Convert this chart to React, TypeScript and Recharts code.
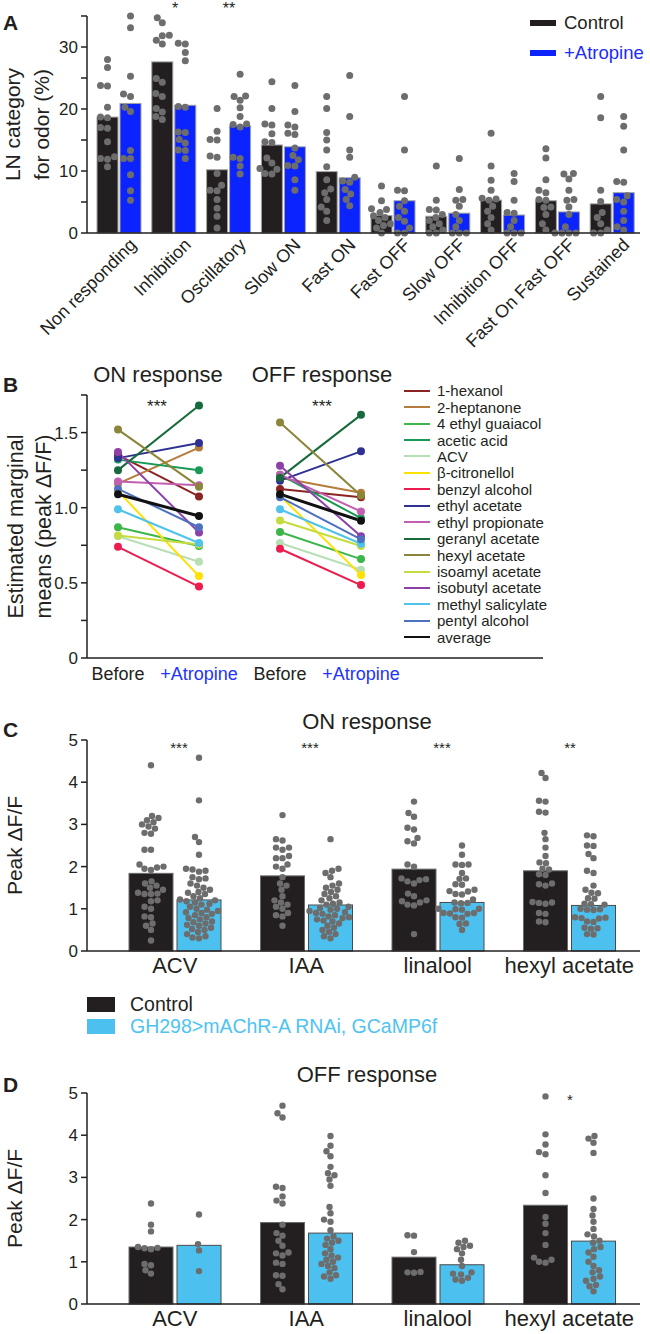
import React from 'react';
import { BarChart, Bar, XAxis, YAxis, LineChart, Line, Legend, Label } from 'recharts';

const FONT = '"Liberation Sans", Arial, Helvetica, sans-serif';
const INK = '#231f20';
const DOT = '#6d6d6d';
const CONTROL = '#231f20';
const ATROPINE = '#0a23ff';
const RNAI = '#4cc1ef';

// ---------- A: LN response categories ----------
const lnCategories = ['Non responding', 'Inhibition', 'Oscillatory', 'Slow ON', 'Fast ON', 'Fast OFF', 'Slow OFF', 'Inhibition OFF', 'Fast On Fast OFF', 'Sustained'];
const lnControl = [18.7, 27.6, 10.2, 14.2, 9.9, 2.8, 2.7, 5.3, 5.2, 4.7];
const lnAtropine = [20.9, 20.6, 17.3, 13.9, 8.9, 5.2, 3.2, 2.9, 3.4, 6.5];
const lnControlDots = [
  [28.0, 26.7, 23.8, 23.7, 20.3, 18.7, 18.6, 17.0, 16.9, 14.7, 12.3, 12.0, 11.9, 10.7],
  [34.7, 33.9, 31.9, 31.8, 31.1, 30.5, 24.9, 24.3, 22.5, 22.0, 20.1, 19.5, 18.8, 18.3],
  [20.1, 16.4, 15.1, 15.0, 12.4, 12.2, 9.6, 7.7, 6.9, 6.8, 5.4, 4.0, 2.7, 0.8],
  [24.4, 20.1, 17.6, 17.4, 16.0, 14.7, 14.6, 12.1, 11.3, 10.4, 10.3, 9.6, 9.5],
  [22.0, 20.1, 16.2, 15.0, 13.4, 10.7, 8.6, 7.1, 6.5, 5.4, 4.2, 3.5, 2.0],
  [7.6, 5.2, 3.9, 3.8, 3.3, 2.8, 2.5, 2.0, 1.5, 1.2, 0.8, 0.0],
  [10.8, 5.3, 3.8, 3.7, 3.0, 2.5, 2.0, 1.5, 1.0, 0.5, 0.0, 0.0],
  [16.1, 10.8, 8.5, 6.9, 5.6, 5.5, 5.3, 4.3, 3.5, 2.5, 1.5, 0.5],
  [13.6, 12.1, 8.6, 6.9, 6.5, 5.4, 5.3, 4.2, 4.1, 3.0, 1.5, 0.5],
  [22.0, 18.6, 6.9, 5.1, 3.3, 2.5, 1.5, 0.5, 0.0, 0.0],
];
const lnAtropineDots = [
  [35.0, 33.1, 25.3, 22.4, 22.0, 20.3, 19.6, 13.3, 12.0, 12.0, 9.4, 6.8, 5.3],
  [30.6, 30.5, 29.1, 27.8, 20.4, 20.3, 16.3, 16.2, 15.1, 14.5, 13.4, 13.3, 12.0],
  [25.6, 22.1, 22.0, 21.4, 20.2, 18.8, 17.6, 17.5, 17.1, 12.2, 12.0, 10.8, 9.5],
  [23.8, 19.6, 17.4, 17.1, 16.1, 15.9, 13.7, 12.5, 11.8, 10.9, 10.8, 8.6, 6.9],
  [25.4, 18.8, 13.4, 12.2, 9.0, 8.4, 8.2, 7.0, 6.3, 5.4, 4.4],
  [22.0, 13.4, 6.9, 6.8, 5.2, 4.3, 3.5, 2.5, 1.9, 0.8, 0.0, 0.0],
  [12.0, 7.0, 5.4, 5.3, 4.3, 3.0, 2.0, 1.0, 0.0, 0.0, 0.0],
  [9.6, 8.3, 5.3, 3.3, 3.2, 2.0, 1.0, 0.0, 0.0, 0.0],
  [9.6, 9.5, 8.7, 6.9, 5.4, 5.3, 4.2, 3.0, 1.0, 0.0, 0.0, 0.0, 0.0],
  [18.8, 17.2, 13.4, 8.3, 8.2, 6.0, 5.4, 5.0, 3.5, 2.0, 1.0, 0.5],
];
const lnTicks = [0, 5, 10, 15, 20, 25, 30, 35];

// ---------- B: estimated marginal means ----------
const odors = ['1-hexanol', '2-heptanone', '4 ethyl guaiacol', 'acetic acid', 'ACV', 'β-citronellol', 'benzyl alcohol', 'ethyl acetate', 'ethyl propionate', 'geranyl acetate', 'hexyl acetate', 'isoamyl acetate', 'isobutyl acetate', 'methyl salicylate', 'pentyl alcohol', 'average'];
const odorColors = ['#8b2323', '#b57c3c', '#3cb64b', '#169a55', '#b6dfb6', '#ffe100', '#ec1c4e', '#2e3192', '#c35fb0', '#166a3b', '#8a8538', '#c6db3d', '#8e40a9', '#4fc3ec', '#4d70c0', '#111111'];
const onBefore = [1.35, 1.16, 0.87, 1.32, 0.81, 1.11, 0.74, 1.33, 1.175, 1.25, 1.52, 0.815, 1.37, 0.99, 1.125, 1.09];
const onAtropine = [1.075, 1.40, 0.745, 1.25, 0.64, 0.545, 0.475, 1.43, 1.15, 1.68, 1.14, 0.755, 0.835, 0.765, 0.87, 0.945];
const offBefore = [1.125, 1.20, 0.838, 1.22, 0.765, 1.08, 0.727, 1.18, 1.22, 1.20, 1.567, 0.915, 1.28, 0.99, 1.07, 1.09];
const offAtropine = [1.07, 1.10, 0.658, 0.93, 0.587, 0.553, 0.485, 1.375, 0.975, 1.618, 1.082, 0.745, 0.81, 0.76, 0.79, 0.913];
const conditionKeys = ['onBefore', 'onAtropine', 'offBefore', 'offAtropine'];
const conditionLabels = ['Before', '+Atropine', 'Before', '+Atropine'];
const emmTicks = [0, 0.25, 0.5, 0.75, 1, 1.25, 1.5, 1.75];

// ---------- C / D: peak dF/F ----------
const testOdors = ['ACV', 'IAA', 'linalool', 'hexyl acetate'];
const onControl = [1.84, 1.78, 1.94, 1.90];
const onRnai = [1.21, 1.09, 1.15, 1.08];
const offControl = [1.35, 1.93, 1.11, 2.34];
const offRnai = [1.39, 1.68, 0.93, 1.49];
const onControlDots = [
  [4.4, 3.2, 3.15, 3.1, 3.05, 3.0, 2.95, 2.9, 2.8, 2.78, 2.4, 2.4, 2.05, 2.0, 1.98, 1.95, 1.92, 1.65, 1.6, 1.55, 1.5, 1.45, 1.38, 1.36, 1.35, 1.35, 1.2, 1.18, 1.05, 1.0, 0.82, 0.8, 0.65, 0.6, 0.5, 0.25],
  [3.22, 2.65, 2.62, 2.45, 2.45, 2.4, 2.25, 2.2, 2.2, 2.05, 2.0, 1.95, 1.75, 1.6, 1.55, 1.45, 1.3, 1.2, 1.15, 1.1, 1.05, 1.0, 0.9, 0.85, 0.82, 0.6],
  [3.54, 3.27, 3.18, 2.92, 2.88, 2.68, 2.6, 2.55, 2.05, 2.0, 1.72, 1.7, 1.68, 1.65, 1.6, 1.36, 1.3, 1.2, 1.18, 1.15, 1.1, 1.08, 0.4],
  [4.22, 4.1, 3.56, 3.54, 3.3, 3.28, 2.8, 2.65, 2.45, 2.25, 2.1, 2.08, 1.95, 1.93, 1.82, 1.8, 1.6, 1.58, 1.55, 1.16, 1.15, 1.14, 1.12, 0.9, 0.88, 0.7, 0.68],
];
const onRnaiDots = [
  [4.58, 3.57, 2.7, 2.58, 2.28, 1.95, 1.93, 1.9, 1.88, 1.75, 1.72, 1.7, 1.6, 1.55, 1.5, 1.45, 1.4, 1.38, 1.35, 1.3, 1.25, 1.22, 1.2, 1.18, 1.15, 1.12, 1.1, 1.05, 1.0, 0.98, 0.95, 0.92, 0.9, 0.88, 0.85, 0.8, 0.78, 0.75, 0.7, 0.68, 0.65, 0.62, 0.6, 0.55, 0.52, 0.5, 0.45, 0.4, 0.35, 0.32, 0.3],
  [2.65, 1.95, 1.9, 1.85, 1.75, 1.6, 1.55, 1.5, 1.45, 1.4, 1.35, 1.3, 1.25, 1.2, 1.15, 1.1, 1.05, 1.0, 0.98, 0.95, 0.92, 0.9, 0.85, 0.82, 0.8, 0.75, 0.72, 0.7, 0.65, 0.6, 0.55, 0.5, 0.45, 0.4, 0.35, 0.3, 1.12, 1.02, 0.88, 0.78],
  [2.5, 2.28, 2.05, 2.05, 2.04, 1.85, 1.72, 1.71, 1.58, 1.57, 1.45, 1.42, 1.41, 1.35, 1.34, 1.22, 1.15, 1.14, 1.13, 1.0, 1.0, 0.99, 0.98, 0.9, 0.9, 0.89, 0.88, 0.8, 0.79, 0.65, 0.64, 0.5],
  [2.74, 2.72, 2.5, 2.49, 2.3, 2.2, 1.9, 1.85, 1.55, 1.45, 1.38, 1.37, 1.25, 1.24, 1.12, 1.11, 1.1, 1.0, 0.99, 0.98, 0.97, 0.8, 0.79, 0.78, 0.77, 0.7, 0.69, 0.55, 0.54, 0.53, 0.4, 0.39],
];
const offControlDots = [
  [2.38, 1.88, 1.72, 1.35, 1.33, 1.32, 1.3, 0.95, 0.92, 0.8, 0.72],
  [4.7, 4.52, 4.42, 2.78, 2.75, 2.55, 2.45, 2.38, 1.88, 1.68, 1.62, 1.5, 1.38, 1.22, 1.2, 1.15, 0.98, 0.95, 0.68, 0.67, 0.47, 0.35],
  [1.63, 1.62, 1.23, 0.76, 0.75, 0.74],
  [4.92, 4.02, 3.78, 3.6, 3.55, 3.05, 2.63, 2.06, 1.9, 1.68, 1.4, 1.1, 1.05, 1.0, 0.98],
];
const offRnaiDots = [
  [2.12, 1.42, 1.27, 0.78],
  [3.98, 3.75, 3.62, 3.5, 3.25, 3.1, 3.05, 2.95, 2.8, 2.3, 2.15, 2.0, 1.95, 1.75, 1.6, 1.55, 1.5, 1.45, 1.4, 1.3, 1.2, 1.15, 1.1, 1.05, 1.0, 0.95, 0.9, 0.85, 0.75, 0.68, 0.65, 0.6],
  [1.5, 1.45, 1.38, 1.35, 1.3, 1.2, 1.05, 0.9, 0.75, 0.72, 0.7, 0.62, 0.58, 0.55],
  [3.98, 3.92, 3.82, 3.58, 2.5, 2.25, 2.1, 1.95, 1.78, 1.65, 1.6, 1.5, 1.45, 1.35, 1.3, 1.22, 1.12, 1.0, 0.9, 0.8, 0.75, 0.65, 0.6, 0.55, 0.45, 0.42, 0.3],
];
const peakTicks = [0, 1, 2, 3, 4, 5];

const dataA = lnCategories.map((name, i) => ({
  name, control: lnControl[i], atropine: lnAtropine[i], controlDots: lnControlDots[i], atropineDots: lnAtropineDots[i],
}));

const dataB = conditionKeys.map((key, j) => {
  const row: any = { key };
  odors.forEach((_, i) => {
    row[`on${i}`] = j === 0 ? onBefore[i] : j === 1 ? onAtropine[i] : null;
    row[`off${i}`] = j === 2 ? offBefore[i] : j === 3 ? offAtropine[i] : null;
  });
  return row;
});

const dataC = testOdors.map((odor, i) => ({
  odor, control: onControl[i], rnai: onRnai[i], controlDots: onControlDots[i], rnaiDots: onRnaiDots[i],
}));
const dataD = testOdors.map((odor, i) => ({
  odor, control: offControl[i], rnai: offRnai[i], controlDots: offControlDots[i], rnaiDots: offRnaiDots[i],
}));

// simple beeswarm: spread dots sideways so they don't overlap
const swarm = (vals: number[], toY: (v: number) => number, r: number) => {
  const ys = vals.map(toY).sort((a, b) => b - a);
  const placed: { x: number; y: number }[] = [];
  const min = 2 * r;
  ys.forEach(y => {
    let x = 0;
    for (let k = 0; k < 400; k++) {
      const off = (k % 2 === 1 ? -1 : 1) * Math.ceil(k / 2) * 0.5;
      if (placed.every(p => (p.x - off) ** 2 + (p.y - y) ** 2 >= min * min)) { x = off; break; }
    }
    placed.push({ x, y });
  });
  return placed;
};

const dotBar = (valueKey: string, dotsKey: string, r: number, stroke: string) => (props: any) => {
  const { x, y, width, height, fill, payload } = props;
  const v = payload[valueKey];
  const base = y + height;
  const k = height / v;
  const cx = x + width / 2;
  const pts = swarm(payload[dotsKey], d => base - d * k, r);
  return (
    <g>
      <rect x={x} y={y} width={width} height={height} fill={fill} stroke={stroke} strokeWidth={1} />
      {pts.map((p, i) => <circle key={i} cx={cx + p.x} cy={p.y} r={r} fill={DOT} />)}
    </g>
  );
};

const yLabel = (lines: string[], xs: number[], size: number) => (props: any) => {
  const { viewBox } = props;
  const cy = viewBox.y + viewBox.height / 2;
  return (
    <g>
      {lines.map((t, i) => (
        <text key={i} x={xs[i]} y={cy} transform={`rotate(-90, ${xs[i]}, ${cy})`} textAnchor="middle"
          fontSize={size} fontFamily={FONT} fill={INK}>{t}</text>
      ))}
    </g>
  );
};

const RotTick = (props: any) => {
  const { x, y, payload } = props;
  const ax = x + 18;
  const ay = y + 5;
  return (
    <text x={ax} y={ay} transform={`rotate(-45, ${ax}, ${ay})`} textAnchor="end" fontSize={18} fontFamily={FONT} fill={INK}>
      {payload.value}
    </text>
  );
};

const CondTick = (props: any) => {
  const { x, y, payload } = props;
  const idx = conditionKeys.indexOf(payload.value);
  const label = conditionLabels[idx];
  return (
    <text x={x} y={y + 14} textAnchor="middle" fontSize={18} fontFamily={FONT} fill={label === 'Before' ? INK : '#2233ff'}>
      {label}
    </text>
  );
};

const AtropineLegend = () => (
  <div style={{ fontFamily: FONT, fontSize: 18.5 }}>
    {[['Control', CONTROL, INK], ['+Atropine', ATROPINE, '#1c2bff']].map(([t, c, tc]) => (
      <div key={t} style={{ display: 'flex', alignItems: 'center', height: 30 }}>
        <div style={{ width: 26, height: 6, background: c, marginRight: 8 }} />
        <span style={{ color: tc }}>{t}</span>
      </div>
    ))}
  </div>
);

const OdorLegend = () => (
  <div style={{ fontFamily: FONT, fontSize: 15, color: INK }}>
    {odors.map((o, i) => (
      <div key={o} style={{ display: 'flex', alignItems: 'center', height: 16.45, whiteSpace: 'nowrap' }}>
        <svg width={33} height={10}><line x1={0} y1={5} x2={26} y2={5} stroke={odorColors[i]} strokeWidth={2} /></svg>
        <span>{o}</span>
      </div>
    ))}
  </div>
);

const RnaiLegend = () => (
  <div style={{ fontFamily: FONT, fontSize: 19.5 }}>
    {[['Control', CONTROL, INK], ['GH298>mAChR-A RNAi, GCaMP6f', RNAI, '#4fc3f2']].map(([t, c, tc]) => (
      <div key={t} style={{ display: 'flex', alignItems: 'center', height: 22.5, whiteSpace: 'nowrap' }}>
        <div style={{ width: 28, height: 15, background: c, marginRight: 15 }} />
        <span style={{ color: tc }}>{t}</span>
      </div>
    ))}
  </div>
);

const axisStyle = { stroke: INK, strokeWidth: 1.5 };
const tickFont = { fontSize: 17, fill: INK, fontFamily: FONT };

const PeakChart = ({ data, top, height, marginTop, marginBottom, xHeight, legend }: any) => (
  <div style={{ position: 'absolute', left: 0, top }}>
    <BarChart width={650} height={height} data={data} margin={{ top: marginTop, right: 10, left: 0, bottom: marginBottom }}
      barCategoryGap={20} barGap={4}>
      <XAxis dataKey="odor" tickLine={false} axisLine={axisStyle} height={xHeight} padding={{ left: 22, right: 5 }}
        tick={{ fontSize: 22, fill: INK, fontFamily: FONT }} tickMargin={0} interval={0} />
      <YAxis width={87} domain={[0, 5]} ticks={peakTicks} interval={0} axisLine={axisStyle} tickLine={axisStyle}
        tickSize={6} tickMargin={3} tick={tickFont}>
        <Label content={yLabel(['Peak ΔF/F'], [22], 21)} />
      </YAxis>
      <Bar dataKey="control" fill={CONTROL} isAnimationActive={false} shape={dotBar('control', 'controlDots', 3.2, '#6a6a6a')} />
      <Bar dataKey="rnai" fill={RNAI} isAnimationActive={false} shape={dotBar('rnai', 'rnaiDots', 3.2, '#4a4a4a')} />
      {legend && (
        <Legend layout="horizontal" verticalAlign="middle" align="center" content={() => <RnaiLegend />}
          wrapperStyle={{ left: 87, top: 293, width: 'auto' }} />
      )}
    </BarChart>
  </div>
);

const overlayText = (x: number, y: number, t: string, size: number, extra: any = {}) => (
  <text x={x} y={y} fontSize={size} fontFamily={FONT} fill={INK} textAnchor="middle" {...extra}>{t}</text>
);

export default function App() {
  return (
    <div style={{ position: 'absolute', left: 0, top: 0, width: 650, height: 1334, background: '#fff', overflow: 'hidden' }}>
      {/* A */}
      <div style={{ position: 'absolute', left: 0, top: 0 }}>
        <BarChart width={650} height={360} data={dataA} margin={{ top: 16, right: 10, left: 0, bottom: 0 }} barCategoryGap={5} barGap={2}>
          <XAxis dataKey="name" interval={0} height={127} tickLine={false} axisLine={axisStyle} padding={{ left: 5, right: 0 }}
            tick={(p: any) => <RotTick {...p} />} />
          <YAxis width={87} domain={[0, 35]} ticks={lnTicks} interval={0} axisLine={axisStyle} tickLine={axisStyle}
            tickSize={6} tickMargin={3} tick={tickFont} tickFormatter={(v: number) => (v % 10 === 0 ? String(v) : '')}>
            <Label content={yLabel(['LN category', 'for odor (%)'], [20, 49], 21)} />
          </YAxis>
          <Bar dataKey="control" fill={CONTROL} isAnimationActive={false} shape={dotBar('control', 'controlDots', 3.5, '#a3a3a3')} />
          <Bar dataKey="atropine" fill={ATROPINE} isAnimationActive={false} shape={dotBar('atropine', 'atropineDots', 3.5, '#a3a3a3')} />
          <Legend layout="horizontal" verticalAlign="middle" align="center" content={() => <AtropineLegend />}
            wrapperStyle={{ left: 530, top: 8, width: 'auto' }} />
        </BarChart>
      </div>

      {/* B */}
      <div style={{ position: 'absolute', left: 0, top: 340 }}>
        <LineChart width={650} height={350} data={dataB} margin={{ top: 55, right: 107, left: 0, bottom: 0 }}>
          <XAxis dataKey="key" scale="point" padding={{ left: 31, right: 182 }} tickLine={false} axisLine={axisStyle}
            height={32} interval={0} tick={(p: any) => <CondTick {...p} />} />
          <YAxis width={87} domain={[0, 1.75]} ticks={emmTicks} interval={0} axisLine={axisStyle} tickLine={axisStyle}
            tickSize={6} tickMargin={3} tick={tickFont}
            tickFormatter={(v: number) => (v === 0 ? '0' : v % 0.5 === 0 ? v.toFixed(1) : '')}>
            <Label content={yLabel(['Estimated marginal', 'means (peak ΔF/F)'], [23, 51], 21.5)} />
          </YAxis>
          {odors.flatMap((o, i) => ['on', 'off'].map(ph => (
            <Line key={`${ph}${i}`} dataKey={`${ph}${i}`} stroke={odorColors[i]} strokeWidth={o === 'average' ? 3 : 2}
              dot={{ r: 4, fill: odorColors[i], stroke: odorColors[i], strokeWidth: 0 }} activeDot={false}
              connectNulls={false} isAnimationActive={false} />
          )))}
          <Legend layout="horizontal" verticalAlign="middle" align="center" content={() => <OdorLegend />}
            wrapperStyle={{ left: 404, top: 42.5, width: 'auto' }} />
        </LineChart>
      </div>

      {/* C */}
      <PeakChart data={dataC} top={700} height={350} marginTop={40} marginBottom={60} xHeight={39} legend />
      {/* D */}
      <PeakChart data={dataD} top={1050} height={284} marginTop={43} marginBottom={0} xHeight={30} />

      {/* panel letters, titles, significance */}
      <svg width={650} height={1334} style={{ position: 'absolute', left: 0, top: 0, pointerEvents: 'none' }}>
        {overlayText(3, 30, 'A', 21, { fontWeight: 'bold', textAnchor: 'start' })}
        {overlayText(3, 392, 'B', 21, { fontWeight: 'bold', textAnchor: 'start' })}
        {overlayText(3, 737, 'C', 21, { fontWeight: 'bold', textAnchor: 'start' })}
        {overlayText(3, 1092, 'D', 21, { fontWeight: 'bold', textAnchor: 'start' })}
        {overlayText(175, 14, '*', 16)}
        {overlayText(229, 14, '**', 16)}
        {overlayText(158, 382, 'ON response', 22)}
        {overlayText(322, 382, 'OFF response', 22)}
        {overlayText(157, 412, '***', 17)}
        {overlayText(322, 412, '***', 17)}
        {overlayText(367, 729, 'ON response', 22)}
        {overlayText(179, 753, '***', 15)}
        {overlayText(310, 753, '***', 15)}
        {overlayText(442, 753, '***', 15)}
        {overlayText(570, 753, '**', 15)}
        {overlayText(367, 1082, 'OFF response', 22)}
        {overlayText(570, 1105, '*', 15)}
      </svg>
    </div>
  );
}
